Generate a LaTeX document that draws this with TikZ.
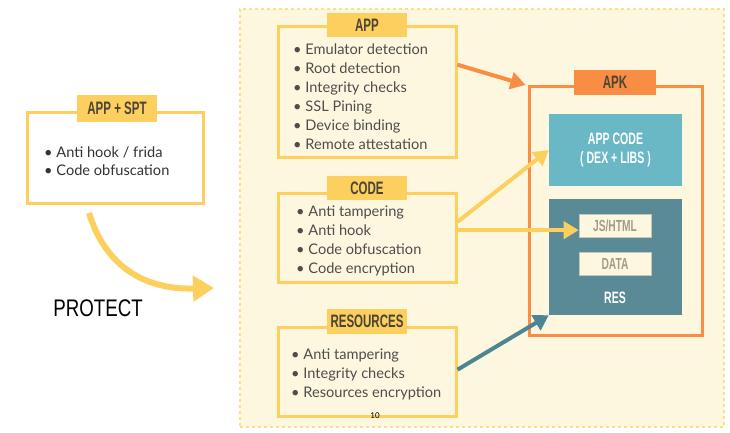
\documentclass[tikz,border=0pt]{standalone}
\usepackage{fontspec}
\setmainfont{Lato}
\newfontfamily\cond{Liberation Sans}[FakeStretch=0.64]
\newfontfamily\condw{Liberation Sans}[FakeStretch=0.78]
\usetikzlibrary{arrows.meta,calc}
\definecolor{ylw}{HTML}{FDCF5F}
\definecolor{cream}{HTML}{FEF7E0}
\definecolor{panelline}{HTML}{FBE08A}
\definecolor{orng}{HTML}{F98D43}
\definecolor{appc}{HTML}{6AB7C6}
\definecolor{resc}{HTML}{5A8A95}
\definecolor{tealarrow}{HTML}{4D8593}
\definecolor{txt}{HTML}{4D4D4D}
\definecolor{tabtxt}{HTML}{4A4536}
\definecolor{smalltxt}{HTML}{A39C88}
\begin{document}
\begin{tikzpicture}[x=1pt,y=-1pt,
  panel/.style={draw=panelline,dashed,line width=1.5pt,fill=cream,inner sep=0,minimum width=484pt,minimum height=418pt},
  box/.style={draw=ylw,line width=3pt,fill=cream,inner sep=0},
  tab/.style={fill=ylw,inner sep=0,minimum width=80pt,minimum height=24pt,font=\cond\bfseries\fontsize{18}{18}\selectfont,text=tabtxt},
  lst/.style={inner sep=0,anchor=west,align=left,font=\fontsize{14.6}{19}\selectfont,text=txt},
  inbox/.style={fill=cream,draw=smalltxt!60,line width=0.6pt,inner sep=0,minimum width=72pt,minimum height=23pt,font=\cond\bfseries\fontsize{16}{16}\selectfont,text=smalltxt},
  conn/.style={line width=4pt,-{Triangle[length=15pt,width=17pt]}}
]
\useasboundingbox (0,0) rectangle (730,433);
% big panel
\node[panel] (panel) at (482,218) {};
% APP + SPT
\node[box,fill=white,minimum width=176pt,minimum height=90pt] (spt) at (115,158) {};
\node[tab,minimum height=27pt] (spttab) at (117,108.5) {APP + SPT};
\node[lst,text=black!80,font=\fontsize{14.6}{18}\selectfont] (sptlist) at (44,161) {• Anti hook / frida\\• Code obfuscation};
% PROTECT arrow
\coordinate (pstart) at (89,213);
\coordinate (pend) at (214,288);
\draw[ylw,line width=6pt,-{Triangle[length=21pt,width=25pt]}] (pstart) .. controls (104,262) and (140,290) .. (pend);
\node[font=\condw\fontsize{24}{24}\selectfont,text=black,inner sep=0] (protect) at (98,308) {PROTECT};
% APP
\node[box,minimum width=178pt,minimum height=130pt] (app) at (367,92) {};
\node[tab] (apptab) at (367,25) {APP};
\node[lst] (applist) at (293,96.5) {• Emulator detection\\• Root detection\\• Integrity checks\\• SSL Pining\\• Device binding\\• Remote attestation};
% CODE
\node[box,minimum width=178pt,minimum height=89pt] (code) at (367,237.5) {};
\node[tab] (codetab) at (367,188) {CODE};
\node[lst] (codelist) at (296,240.5) {• Anti tampering\\• Anti hook\\• Code obfuscation\\• Code encryption};
% RESOURCES
\node[box,minimum width=178pt,minimum height=89pt] (res) at (367,371.5) {};
\node[tab,minimum height=25pt] (restab) at (367,321.5) {RESOURCES};
\node[lst] (reslist) at (291,374) {• Anti tampering\\• Integrity checks\\• Resources encryption};
\node[font=\fontsize{8}{8}\selectfont,text=black,inner sep=0] (pagenum) at (375,416) {10};
% APK
\node[draw=orng,line width=3pt,inner sep=0,minimum width=173pt,minimum height=248pt] (apk) at (615.5,211) {};
\node[tab,fill=orng,minimum width=82pt,minimum height=25pt] (apktab) at (615,82.5) {APK};
\node[fill=appc,inner sep=0,minimum width=133pt,minimum height=72pt,align=center,text=white,font=\cond\bfseries\fontsize{16.5}{19}\selectfont] (appcode) at (615.5,150) {APP CODE\\( DEX + LIBS )};
\node[fill=resc,inner sep=0,minimum width=133pt,minimum height=116pt] (resbox) at (615.5,257) {};
\node[inbox] (jshtml) at (615,225.5) {JS/HTML};
\node[inbox] (data) at (615,264) {DATA};
\node[text=white,inner sep=0,font=\cond\bfseries\fontsize{16.5}{16.5}\selectfont] (reslabel) at (615,298) {RES};
% connectors
\draw[conn,orng,shorten >=2pt] ($(app.north east)!0.295!(app.south east)$) -- (apk.north west);
\draw[conn,ylw] ($(code.north east)!0.33!(code.south east)$) -- (appcode.west);
\coordinate (c2) at ($(code.north east)!0.42!(code.south east)$);
\draw[conn,ylw] (c2) -- (c2 -| jshtml.west);
\draw[conn,tealarrow] ($(res.north east)!0.48!(res.south east)$) -- (resbox.south west);
\end{tikzpicture}
\end{document}
